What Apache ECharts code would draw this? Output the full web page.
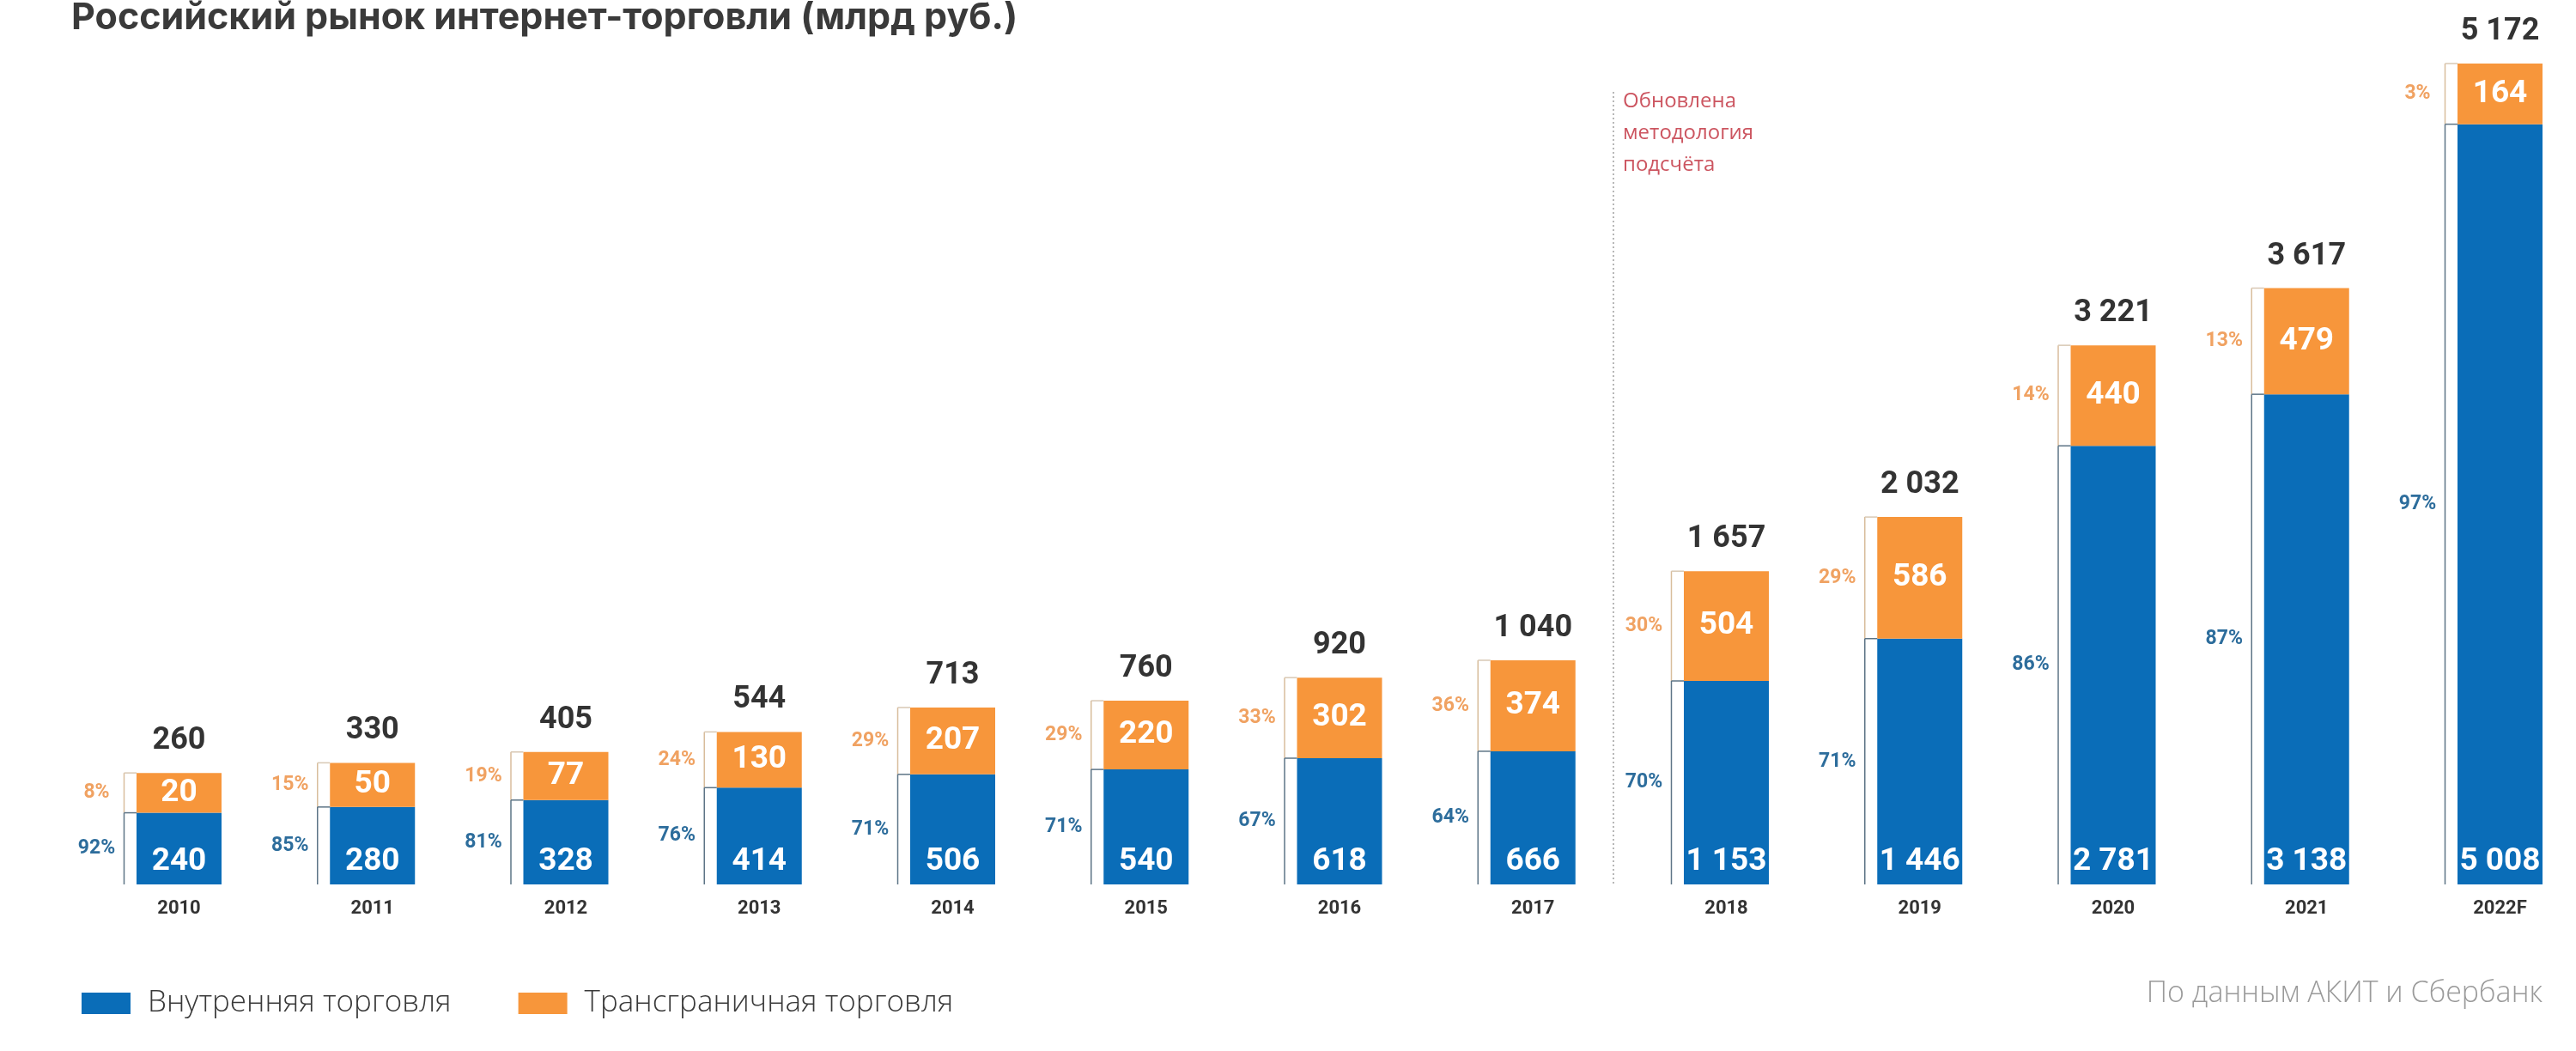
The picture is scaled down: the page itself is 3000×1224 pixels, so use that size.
<!DOCTYPE html>
<html>
<head>
<meta charset="utf-8">
<script src="https://cdn.jsdelivr.net/npm/echarts@6/dist/echarts.min.js"></script>
<style>
html,body{margin:0;padding:0;background:#fff;}
#chart{width:3000px;height:1224px;}
</style>
</head>
<body>
<div id="chart"></div>
<script>
const YEARS = ['2010','2011','2012','2013','2014','2015','2016','2017','2018','2019','2020','2021','2022F'];
const DOMESTIC = [240, 280, 328, 414, 506, 540, 618, 666, 1153, 1446, 2781, 3138, 5008];
const CROSS = [20, 50, 77, 130, 207, 220, 302, 374, 504, 586, 440, 479, 164];
const TOTALS = [260, 330, 405, 544, 713, 760, 920, 1040, 1657, 2032, 3221, 3617, 5172];
const DOMESTIC_PCT = ['92%','85%','81%','76%','71%','71%','67%','64%','70%','71%','86%','87%','97%'];
const CROSS_PCT = ['8%','15%','19%','24%','29%','29%','33%','36%','30%','29%','14%','13%','3%'];
const SERIES_NAMES = ['Внутренняя торговля', 'Трансграничная торговля'];

// The original bars are not to scale: each segment has a constant visual base added.
const SEGMENT_BASE = 256;
const BLUE = '#0a6db8';
const ORANGE = '#f7963b';
const FONT = 'Roboto';
const LIGHT_FONT = 'Open Sans';

function fmt(n) { return String(n).replace(/\B(?=(\d{3})+(?!\d))/g, ' '); }

const blueDisp = DOMESTIC.map(v => v + SEGMENT_BASE);
const orangeDisp = CROSS.map(v => v + SEGMENT_BASE);
const yMax = Math.max(...TOTALS) + 2 * SEGMENT_BASE;
const customData = YEARS.map((y, i) => [i, blueDisp[i], orangeDisp[i]]);

const chart = echarts.init(document.getElementById('chart'));
chart.setOption({
  backgroundColor: '#ffffff',
  animation: false,
  title: {
    text: 'Российский рынок интернет-торговли (млрд руб.)',
    left: 78, top: -5,
    textStyle: { fontFamily: 'Inter', fontWeight: 700, fontSize: 43, color: '#3a3a3a' }
  },
  legend: {
    data: SERIES_NAMES,
    left: 90, top: 1146,
    icon: 'rect',
    itemWidth: 57, itemHeight: 25, itemGap: 78,
    textStyle: { fontFamily: LIGHT_FONT, fontWeight: 300, fontSize: 35, color: '#3a3a3a', padding: [0, 0, 0, 15] }
  },
  grid: { left: 208.5, right: 88.5, top: 74, bottom: 194, containLabel: false },
  xAxis: {
    type: 'category',
    data: YEARS,
    boundaryGap: false,
    axisLine: { show: false },
    axisTick: { show: false },
    axisLabel: { margin: 17, fontFamily: FONT, fontWeight: 700, fontSize: 22, color: '#333' }
  },
  yAxis: { type: 'value', min: 0, max: yMax, show: false, splitLine: { show: false } },
  series: [
    {
      name: SERIES_NAMES[0], type: 'bar', stack: 'a', barWidth: 99, clip: false,
      itemStyle: { color: BLUE },
      data: blueDisp,
      label: {
        show: true, position: 'insideBottom', distance: 8,
        formatter: p => fmt(DOMESTIC[p.dataIndex]),
        fontFamily: FONT, fontWeight: 700, fontSize: 37, color: '#fff'
      }
    },
    {
      name: SERIES_NAMES[1], type: 'bar', stack: 'a', barWidth: 99, clip: false,
      itemStyle: { color: ORANGE },
      data: orangeDisp,
      label: {
        show: true, position: 'inside',
        formatter: p => fmt(CROSS[p.dataIndex]),
        fontFamily: FONT, fontWeight: 700, fontSize: 37, color: '#fff'
      }
    },
    {
      name: 'annotations', type: 'custom',
      data: customData,
      encode: { x: 0, y: [1, 2] },
      z: 5,
      clip: false,
      renderItem: function (params, api) {
        const i = api.value(0);
        const b = api.value(1), o = api.value(2);
        const base = api.coord([i, 0]);
        const cx = base[0];
        const bottom = base[1];
        const split = api.coord([i, b])[1];
        const top = api.coord([i, b + o])[1];
        const bx = cx - 64;
        const barLeft = cx - 49.5;
        const px = cx - 96;
        return {
          type: 'group',
          children: [
            { type: 'line', shape: { x1: bx, y1: top, x2: bx, y2: split }, style: { stroke: '#d8bd9c', lineWidth: 1.5 } },
            { type: 'line', shape: { x1: bx, y1: split, x2: bx, y2: bottom }, style: { stroke: '#5d7486', lineWidth: 1.5 } },
            { type: 'line', shape: { x1: bx, y1: top, x2: barLeft, y2: top }, style: { stroke: '#d8c8b4', lineWidth: 1.5 } },
            { type: 'line', shape: { x1: bx, y1: split, x2: barLeft, y2: split }, style: { stroke: '#5d7486', lineWidth: 1.5 } },
            { type: 'text', style: { text: CROSS_PCT[i], x: px, y: (top + split) / 2, align: 'center', verticalAlign: 'middle', fill: '#f0a262', font: '700 23px ' + FONT } },
            { type: 'text', style: { text: DOMESTIC_PCT[i], x: px, y: (split + bottom) / 2, align: 'center', verticalAlign: 'middle', fill: '#2d6d9c', font: '700 23px ' + FONT } },
            { type: 'text', style: { text: fmt(TOTALS[i]), x: cx, y: top - 37, align: 'center', verticalAlign: 'middle', fill: '#333333', font: '700 36px ' + FONT } }
          ]
        };
      }
    }
  ],
  graphic: [
    { type: 'line', shape: { x1: 1879, y1: 107, x2: 1879, y2: 1030 }, style: { stroke: '#a0a0a0', lineWidth: 1.5, lineDash: [2, 3] } },
    { type: 'text', left: 1890, top: 100, style: { text: 'Обновлена\nметодология\nподсчёта', fill: '#cc5560', font: '400 24px ' + LIGHT_FONT, lineHeight: 37 } },
    { type: 'text', right: 39, top: 1140, style: { text: 'По данным АКИТ и Сбербанк', fill: '#9a9a9a', font: '300 34px ' + LIGHT_FONT } }
  ]
});
</script>
</body>
</html>
